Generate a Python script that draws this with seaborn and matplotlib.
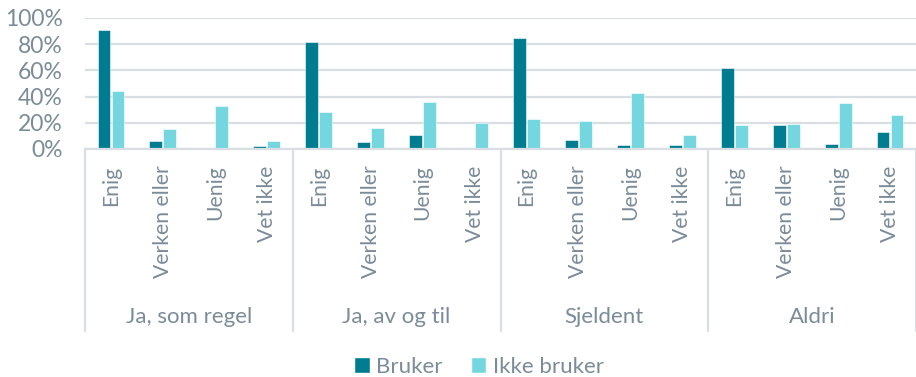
import matplotlib
matplotlib.use("Agg")
import matplotlib.pyplot as plt
import matplotlib.transforms as mtransforms
from matplotlib.patches import Patch
import seaborn as sns
import pandas as pd

# Survey data: share agreeing, by usage frequency and user status
groups = ["Ja, som regel", "Ja, av og til", "Sjeldent", "Aldri"]
answers = ["Enig", "Verken eller", "Uenig", "Vet ikke"]
series = ["Bruker", "Ikke bruker"]
bruker = [91, 6, 0, 2,
          82, 5, 11, 0,
          85, 7, 3, 3,
          62, 18, 4, 13]
ikke_bruker = [44, 15, 33, 6,
               28, 16, 36, 20,
               23, 21, 43, 11,
               18, 19, 35, 26]
colors = ["#007C91", "#74D7E0"]
text_color = "#7A8B99"
grid_color = "#D9DEE3"

rows = []
for gi, g in enumerate(groups):
    for ai, a in enumerate(answers):
        key = f"{g}|{a}"
        rows.append((key, series[0], bruker[gi * 4 + ai] / 100))
        rows.append((key, series[1], ikke_bruker[gi * 4 + ai] / 100))
df = pd.DataFrame(rows, columns=["key", "serie", "andel"])
order = [f"{g}|{a}" for g in groups for a in answers]

sns.set_theme(style="white")
plt.rcParams["font.family"] = ["Lato", "DejaVu Sans"]

fig = plt.figure(figsize=(9.16, 3.77), dpi=100)
ax = fig.add_axes([85 / 916, 1 - 149 / 377, 831 / 916, 131 / 377])

sns.barplot(data=df, x="key", y="andel", hue="serie", order=order,
            hue_order=series, palette=colors, width=0.54, gap=0.08,
            saturation=1, ax=ax, legend=False, edgecolor="white", linewidth=0.4)

ax.set_xlim(-0.5, len(order) - 0.5)
ax.set_ylim(0, 1)
ax.set_yticks([0, 0.2, 0.4, 0.6, 0.8, 1.0])
ax.set_yticklabels([f"{int(v * 100)}%" for v in ax.get_yticks()],
                   color=text_color, fontsize=16.5)
ax.yaxis.grid(True, color=grid_color, linewidth=1.6)
ax.set_axisbelow(True)
for s in ["left", "right", "top"]:
    ax.spines[s].set_visible(False)
ax.spines["bottom"].set_color(grid_color)
ax.spines["bottom"].set_linewidth(1.6)
ax.tick_params(axis="both", length=0)
ax.tick_params(axis="y", pad=16)
ax.tick_params(axis="x", pad=12)
ax.set_xticks(range(len(order)))
ax.set_xticklabels([k.split("|")[1] for k in order], rotation=90,
                   color=text_color, fontsize=15.2, va="top", ha="center")
ax.set_xlabel("")
ax.set_ylabel("")

# group separators and group labels below the category labels
trans = mtransforms.blended_transform_factory(ax.transData, ax.transAxes)
for b in [-0.5, 3.5, 7.5, 11.5, 15.5]:
    ax.plot([b, b], [0, -1.39], transform=trans, color=grid_color,
            linewidth=1.6, clip_on=False)
for gi, g in enumerate(groups):
    ax.text(gi * 4 + 1.5, -1.28, g, transform=trans, ha="center", va="center",
            color=text_color, fontsize=16)

handles = [Patch(facecolor=c, label=s) for c, s in zip(colors, series)]
leg = fig.legend(handles=handles, loc="center", bbox_to_anchor=(0.523, 1 - 367 / 377),
                 ncol=2, frameon=False, fontsize=16, handlelength=0.7,
                 handleheight=0.7, handletextpad=0.3, columnspacing=1.25)
for t in leg.get_texts():
    t.set_color(text_color)

fig.savefig("out.png", dpi=100)
